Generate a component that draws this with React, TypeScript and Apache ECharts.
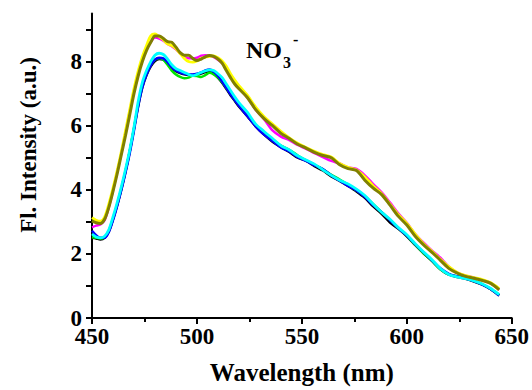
import React, { useEffect, useRef } from "react";
import * as echarts from "echarts";

const wavelengths = [450,452,454,456,458,460,462,464,466,468,470,472,474,476,478,480,482,484,486,488,490,492,494,496,498,500,502,504,506,508,510,512,514,516,518,520,524,528,532,536,540,544,548,552,556,560,564,568,572,576,580,584,588,592,596,600,604,608,612,616,620,624,628,632,636,640,644];

const blackValues = [2.5,2.48,2.45,2.5,2.7,3.08,3.52,4.02,4.58,5.2,5.9,6.62,7.2,7.58,7.85,8.02,8.08,8.06,7.95,7.8,7.7,7.64,7.6,7.58,7.58,7.6,7.63,7.67,7.7,7.62,7.5,7.34,7.15,6.95,6.78,6.6,6.3,5.98,5.72,5.5,5.33,5.18,5.0,4.9,4.74,4.6,4.42,4.28,4.12,3.95,3.75,3.48,3.25,2.98,2.78,2.55,2.28,2.02,1.78,1.52,1.35,1.28,1.22,1.14,1.04,0.9,0.7];
const greenValues = [2.52,2.5,2.48,2.52,2.72,3.1,3.55,4.05,4.6,5.22,5.92,6.65,7.25,7.62,7.9,8.06,8.1,8.06,7.9,7.72,7.6,7.52,7.48,7.5,7.56,7.55,7.52,7.58,7.65,7.6,7.5,7.36,7.18,7.0,6.82,6.65,6.35,6.02,5.75,5.55,5.38,5.25,5.07,4.92,4.78,4.64,4.47,4.32,4.16,3.98,3.8,3.55,3.3,3.06,2.8,2.56,2.28,2.02,1.78,1.52,1.36,1.3,1.25,1.16,1.05,0.9,0.72];
const blueValues = [2.72,2.58,2.5,2.5,2.68,3.05,3.5,4.0,4.55,5.15,5.85,6.6,7.2,7.6,7.88,8.06,8.12,8.1,7.98,7.82,7.72,7.66,7.62,7.6,7.6,7.62,7.66,7.72,7.75,7.68,7.55,7.38,7.18,6.98,6.8,6.62,6.3,5.98,5.72,5.52,5.32,5.2,5.02,4.9,4.76,4.65,4.45,4.28,4.12,3.98,3.78,3.52,3.3,3.05,2.8,2.57,2.3,2.05,1.8,1.55,1.38,1.3,1.24,1.15,1.04,0.9,0.7];
const cyanValues = [2.62,2.53,2.5,2.55,2.75,3.15,3.6,4.1,4.65,5.25,5.95,6.75,7.35,7.72,8.0,8.2,8.26,8.22,8.08,7.9,7.78,7.72,7.66,7.6,7.56,7.6,7.66,7.71,7.74,7.72,7.62,7.5,7.3,7.1,6.9,6.72,6.42,6.05,5.82,5.6,5.38,5.24,5.06,4.93,4.8,4.62,4.45,4.3,4.18,4.02,3.82,3.55,3.3,3.08,2.82,2.6,2.32,2.06,1.82,1.54,1.36,1.28,1.23,1.16,1.06,0.92,0.73];
const magentaValues = [2.83,2.88,2.92,3.05,3.45,3.98,4.55,5.15,5.8,6.45,7.1,7.62,8.05,8.4,8.62,8.75,8.72,8.65,8.55,8.48,8.38,8.25,8.15,8.1,8.1,8.12,8.18,8.2,8.18,8.14,8.06,7.95,7.78,7.55,7.35,7.18,6.88,6.5,6.2,5.85,5.66,5.55,5.4,5.28,5.14,5.02,4.9,4.82,4.7,4.65,4.45,4.18,3.92,3.6,3.26,2.97,2.62,2.35,2.1,1.88,1.6,1.42,1.32,1.26,1.18,1.08,0.88];
const yellowValues = [3.13,3.05,3.02,3.15,3.55,4.05,4.6,5.2,5.85,6.5,7.15,7.7,8.15,8.5,8.8,8.86,8.78,8.68,8.55,8.5,8.4,8.25,8.1,8.0,7.98,8.02,8.1,8.14,8.16,8.18,8.12,8.02,7.85,7.62,7.42,7.25,6.95,6.58,6.28,6.05,5.82,5.62,5.45,5.32,5.2,5.1,5.02,4.82,4.7,4.62,4.4,4.12,3.88,3.55,3.22,2.95,2.62,2.32,2.08,1.83,1.6,1.42,1.32,1.26,1.2,1.1,0.92];
const oliveValues = [3.03,2.97,2.95,3.08,3.45,3.95,4.5,5.1,5.7,6.35,7.0,7.55,8.0,8.35,8.6,8.8,8.8,8.72,8.62,8.6,8.45,8.28,8.2,8.2,8.1,8.03,8.08,8.15,8.19,8.16,8.08,7.95,7.72,7.5,7.3,7.15,6.88,6.5,6.22,6.0,5.76,5.6,5.42,5.3,5.17,5.07,5.0,4.78,4.66,4.6,4.3,4.05,3.85,3.52,3.17,2.9,2.55,2.28,2.05,1.8,1.55,1.4,1.3,1.24,1.17,1.08,0.88];

const xTickLabels = [450, 500, 550, 600, 650];
const yTickLabels = [0, 2, 4, 6, 8];
const yTicks = [0, 1, 2, 3, 4, 5, 6, 7, 8, 9];

const seriesDefs = [
  { name: "black", color: "#000000", values: blackValues, width: 2.5 },
  { name: "green", color: "#00e400", values: greenValues, width: 2.5 },
  { name: "blue", color: "#0000ff", values: blueValues, width: 2.5 },
  { name: "cyan", color: "#00ffff", values: cyanValues, width: 2.8 },
  { name: "magenta", color: "#ff00ff", values: magentaValues, width: 2.5 },
  { name: "yellow", color: "#ffff00", values: yellowValues, width: 2.8 },
  { name: "olive", color: "#808000", values: oliveValues, width: 3 },
];

const FAMILY = "Liberation Serif";
const FONT = "'Liberation Serif', serif";

export default function App() {
  const ref = useRef<HTMLDivElement>(null);
  useEffect(() => {
    if (!ref.current) return;
    const chart = echarts.init(ref.current, null, { renderer: "svg" });
    chart.setOption({
      animation: false,
      backgroundColor: "#ffffff",
      grid: { left: 92, right: 17.5, top: 13.5, bottom: 71, containLabel: false },
      xAxis: {
        type: "value",
        min: 450,
        max: 650,
        interval: 50,
        name: "Wavelength (nm)",
        nameLocation: "middle",
        nameGap: 42,
        nameTextStyle: { fontFamily: FAMILY, fontWeight: "bold", fontSize: 25, color: "#000" },
        axisLine: { show: true, onZero: false, lineStyle: { color: "#000", width: 2 } },
        axisTick: { show: true, inside: false, length: 6, lineStyle: { color: "#000", width: 2 } },
        minorTick: { show: true, splitNumber: 2, length: 4, lineStyle: { color: "#000", width: 2 } },
        axisLabel: {
          show: true,
          customValues: xTickLabels,
          margin: 7,
          fontFamily: FAMILY,
          fontWeight: "bold",
          fontSize: 23,
          color: "#000",
        },
        splitLine: { show: false },
      },
      yAxis: {
        type: "value",
        min: 0,
        max: 9.5,
        interval: 1,
        axisLine: { show: true, onZero: false, lineStyle: { color: "#000", width: 2 } },
        axisTick: { show: true, inside: false, length: 6, customValues: yTicks, lineStyle: { color: "#000", width: 2 } },
        axisLabel: {
          show: true,
          customValues: yTickLabels,
          margin: 10,
          fontFamily: FAMILY,
          fontWeight: "bold",
          fontSize: 23,
          color: "#000",
        },
        splitLine: { show: false },
      },
      series: seriesDefs.map((s) => ({
        type: "line",
        name: s.name,
        data: wavelengths.map((w, i) => [w, s.values[i]]),
        smooth: 0.3,
        showSymbol: false,
        symbol: "none",
        lineStyle: { color: s.color, width: s.width },
        itemStyle: { color: s.color },
      })),
      graphic: [
        {
          type: "text",
          x: 28,
          y: 145,
          rotation: Math.PI / 2,
          style: {
            text: "Fl. Intensity (a.u.)",
            font: `bold 23px ${FONT}`,
            fill: "#000",
            align: "center",
            verticalAlign: "middle",
          },
        },
        {
          type: "text",
          left: 246,
          top: 38,
          style: { text: "NO", font: `bold 24px ${FONT}`, fill: "#000" },
        },
        {
          type: "text",
          left: 283,
          top: 54,
          style: { text: "3", font: `bold 16px ${FONT}`, fill: "#000" },
        },
        {
          type: "text",
          left: 293,
          top: 31,
          style: { text: "-", font: `bold 16px ${FONT}`, fill: "#000" },
        },
      ],
    });
    return () => chart.dispose();
  }, []);
  return (
    <div
      ref={ref}
      style={{ position: "absolute", left: 0, top: 0, width: 532, height: 390, background: "#fff" }}
    />
  );
}
